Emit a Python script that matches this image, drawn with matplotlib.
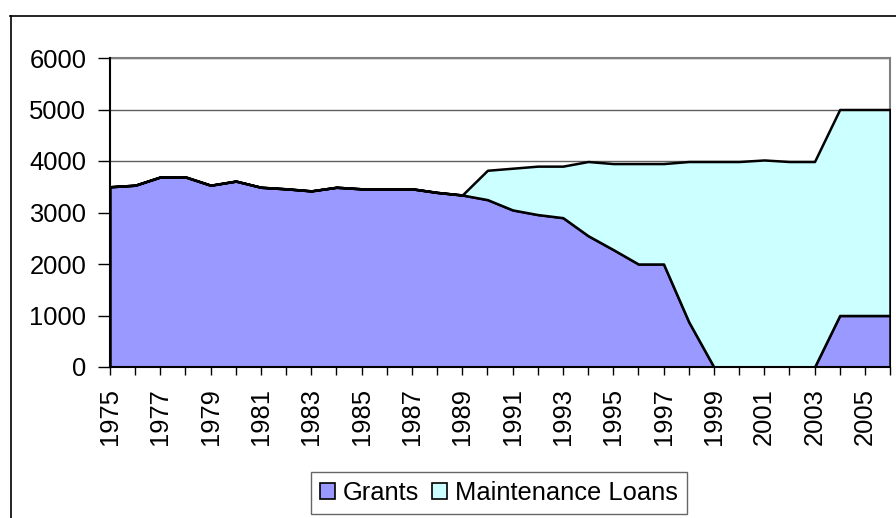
import numpy as np
import matplotlib
matplotlib.use("Agg")
import matplotlib.pyplot as plt
from matplotlib.lines import Line2D
from matplotlib.patches import Patch

plt.rcParams['font.family'] = ['Liberation Sans', 'DejaVu Sans']

# --- Data ---
years = list(range(1975, 2007))
grants = [3500, 3530, 3690, 3690, 3530, 3610, 3490, 3460, 3420, 3490,
          3460, 3460, 3460, 3390, 3340, 3250, 3050, 2960, 2900, 2550,
          2280, 2000, 2000, 880, 0, 0, 0, 0, 0, 1000,
          1000, 1000]
loans = [0, 0, 0, 0, 0, 0, 0, 0, 0, 0,
         0, 0, 0, 0, 0, 570, 810, 940, 1000, 1440,
         1670, 1950, 1950, 3110, 3990, 3990, 4020, 3990, 3990, 4000,
         4000, 4000]
series_names = ["Grants", "Maintenance Loans"]
series_colors = ["#9999FF", "#CCFFFF"]
y_ticks = [0, 1000, 2000, 3000, 4000, 5000, 6000]

FS = 18.4

fig = plt.figure(figsize=(8.96, 5.18), dpi=100)
ax = fig.add_axes([110 / 896, 1 - 367 / 518, 780 / 896, 309 / 518])

ax.stackplot(years, grants, loans, colors=series_colors,
             edgecolor="black", linewidth=1.8, zorder=3)

ax.set_xlim(years[0], years[-1])
ax.set_ylim(0, 6000)
ax.set_yticks(y_ticks)
ax.set_xticks(years)
ax.set_xticklabels([str(y) if (y - years[0]) % 2 == 0 else "" for y in years],
                   rotation=90, fontsize=FS)
ax.tick_params(axis="x", direction="out", length=6, width=1, pad=9, colors="black")
ax.tick_params(axis="y", direction="out", length=9, width=1, pad=8, labelsize=FS)

ax.grid(axis="y", color="#606060", linewidth=1, zorder=1)
ax.set_axisbelow(True)

for side in ("left", "bottom"):
    ax.spines[side].set_color("black")
    ax.spines[side].set_linewidth(1.5)
    ax.spines[side].set_zorder(5)
for side in ("top", "right"):
    ax.spines[side].set_color("#808080")
    ax.spines[side].set_linewidth(1.5)

# outer chart border (left and top edges visible)
fig.add_artist(Line2D([10.5 / 896, 10.5 / 896], [0, 1 - 16 / 518],
                      transform=fig.transFigure, color="black", linewidth=1.2))
fig.add_artist(Line2D([10 / 896, 1], [1 - 16 / 518, 1 - 16 / 518],
                      transform=fig.transFigure, color="black", linewidth=1.2))

handles = [Patch(facecolor=c, edgecolor="black", linewidth=1.2) for c in series_colors]
leg = fig.legend(handles, series_names, loc="center", bbox_to_anchor=(499 / 896, 25 / 518),
                 ncol=2, fontsize=FS, frameon=True, fancybox=False, edgecolor="#404040",
                 handlelength=0.6, handleheight=0.6, handletextpad=0.3,
                 columnspacing=0.5, borderpad=0.35, borderaxespad=0)
leg.get_frame().set_linewidth(1.0)

fig.savefig("out.png", dpi=100)
